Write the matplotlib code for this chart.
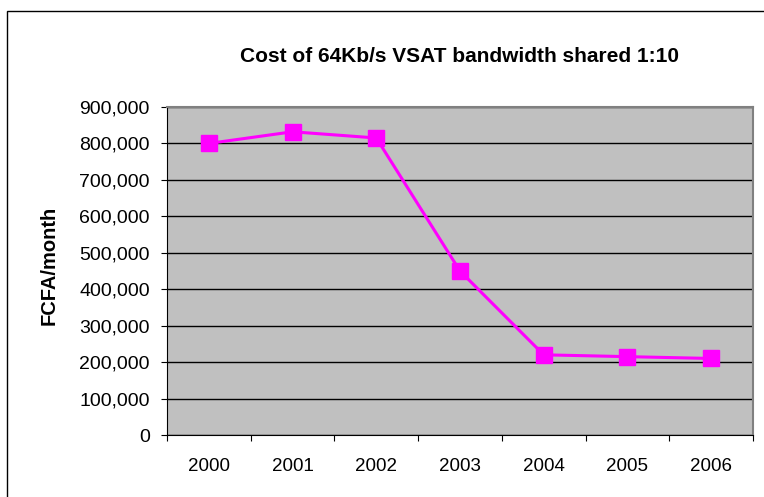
import matplotlib
matplotlib.use("Agg")
import matplotlib.pyplot as plt
from matplotlib.patches import Rectangle
from matplotlib.ticker import FuncFormatter, MultipleLocator

plt.rcParams['font.family'] = ['Liberation Sans', 'DejaVu Sans']

years = ['2000', '2001', '2002', '2003', '2004', '2005', '2006']
cost = [800000, 832000, 815000, 450000, 220000, 215000, 210000]

W, H = 764, 497
fig = plt.figure(figsize=(W / 100, H / 100), dpi=100)

# outer chart border (runs off the right and bottom edges)
fig.patches.append(Rectangle((7 / W, -0.1), 1.2, 1 - 11 / H + 0.1,
                             transform=fig.transFigure, fill=False,
                             edgecolor='black', linewidth=1.0))

ax = fig.add_axes([167 / W, 1 - 435 / H, (753 - 167) / W, (435 - 107) / H])
ax.set_facecolor('#C0C0C0')

x = range(len(years))
ax.plot(x, cost, color='#FF00FF', linewidth=2.2, marker='s',
        markersize=11.3, markerfacecolor='#FF00FF', markeredgecolor='#FF00FF',
        zorder=5, clip_on=False)

ax.set_xlim(-0.5, len(years) - 0.5)
ax.set_ylim(0, 900000)
ax.yaxis.set_major_locator(MultipleLocator(100000))
ax.yaxis.set_major_formatter(FuncFormatter(lambda v, p: f'{int(v):,}'))
ax.grid(axis='y', color='black', linewidth=1.0)
ax.set_axisbelow(True)

ax.set_xticks([i - 0.5 for i in range(len(years) + 1)])
ax.set_xticklabels([])
ax.set_xticks(list(x), minor=True)
ax.set_xticklabels(years, minor=True)
ax.tick_params(axis='x', which='major', direction='out', length=4.5, color='black')
ax.tick_params(axis='x', which='minor', length=0, pad=16.5, labelsize=13.5)
ax.tick_params(axis='y', direction='out', length=4.5, labelsize=14, pad=8)

for s in ['top', 'right']:
    ax.spines[s].set_color('#808080')
    ax.spines[s].set_linewidth(1.5)
ax.spines['left'].set_color('black')
ax.spines['bottom'].set_color('black')

fig.text(49 / W, 1 - 265 / H, 'FCFA/month', rotation=90, ha='center',
         va='center', fontsize=14.5, fontweight='bold')
fig.text(459 / W, 1 - 62 / H, 'Cost of 64Kb/s VSAT bandwidth shared 1:10',
         ha='center', va='baseline', fontsize=15, fontweight='bold')

fig.savefig('out.png', dpi=100)
